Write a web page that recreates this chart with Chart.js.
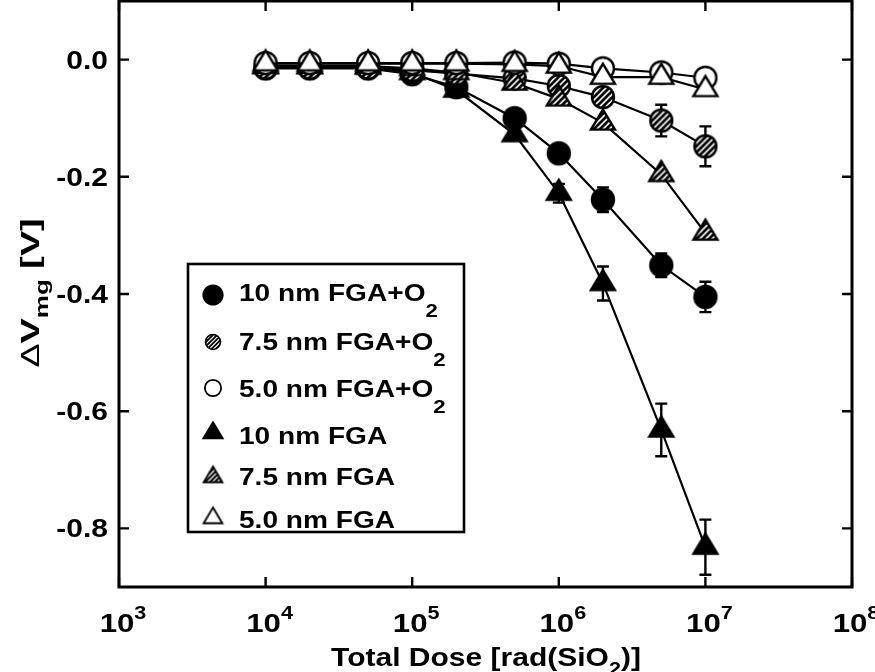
<!DOCTYPE html>
<html>
<head>
<meta charset="utf-8">
<script src="https://cdn.jsdelivr.net/npm/chart.js@4.4.0/dist/chart.umd.min.js"></script>
<style>
  html, body { margin: 0; padding: 0; background: #fff; }
  #wrap { position: relative; width: 875px; height: 672px; }
</style>
</head>
<body>
<div id="wrap"><canvas id="vmg-shift"></canvas></div>
<script>
(function () {
    'use strict';

    // Total dose steps, rad(SiO2)
    const doses = [1e4, 2e4, 5e4, 1e5, 2e5, 5e5, 1e6, 2e6, 5e6, 1e7];

    // Midgap voltage shift [V]
    const fga10o2 = [-0.015, -0.015, -0.015, -0.025, -0.047, -0.100, -0.160, -0.239, -0.351, -0.405];
    const fga75o2 = [-0.014, -0.014, -0.014, -0.018, -0.024, -0.032, -0.045, -0.064, -0.104, -0.148];
    const fga50o2 = [-0.006, -0.006, -0.006, -0.006, -0.006, -0.005, -0.007, -0.015, -0.022, -0.031];
    const fga10   = [-0.012, -0.012, -0.013, -0.022, -0.052, -0.128, -0.228, -0.382, -0.632, -0.832];
    const fga75   = [-0.011, -0.011, -0.011, -0.015, -0.022, -0.040, -0.067, -0.108, -0.196, -0.296];
    const fga50   = [-0.007, -0.007, -0.007, -0.007, -0.007, -0.008, -0.011, -0.030, -0.030, -0.051];

    // Error bar half-widths [V], null = no bar
    const err10o2 = [null, null, null, null, null, null, null, 0.021, 0.020, 0.026];
    const err75o2 = [null, null, null, null, null, null, null, null, 0.027, 0.034];
    const err10   = [null, null, null, null, null, null, 0.016, 0.029, 0.045, 0.047];

    const seriesNames = ['10 nm FGA+O', '7.5 nm FGA+O', '5.0 nm FGA+O', '10 nm FGA', '7.5 nm FGA', '5.0 nm FGA'];
    const seriesSubs  = ['2', '2', '2', '', '', ''];

    const xTicks = [1e3, 1e4, 1e5, 1e6, 1e7, 1e8];
    const yTicks = [0, -0.2, -0.4, -0.6, -0.8];

    const FONT = '"Liberation Sans", Arial, sans-serif';
    const WIDE = 1.2;   // text is set a little wider than the face's natural width

    /* ── Marker sprites ───────────────────────────────────────────────── */

    function makeMarker(shape, fill, s) {
        const size = Math.ceil(34 * s);
        const c = document.createElement('canvas');
        c.width = size;
        c.height = size;
        const g = c.getContext('2d');
        const cx = size / 2, cy = size / 2;

        function outline() {
            g.beginPath();
            if (shape === 'circle') {
                g.arc(cx, cy, 11 * s, 0, Math.PI * 2);
            } else {
                const h = 20 * s, w = 24 * s;
                g.moveTo(cx, cy - h * 2 / 3);
                g.lineTo(cx + w / 2, cy + h / 3);
                g.lineTo(cx - w / 2, cy + h / 3);
            }
            g.closePath();
        }

        outline();
        g.fillStyle = fill === 'solid' ? '#000' : '#fff';
        g.fill();

        if (fill === 'hatch') {
            g.save();
            outline();
            g.clip();
            g.strokeStyle = '#000';
            g.lineWidth = 2.7 * s;
            g.beginPath();
            for (let k = -size; k < size * 2; k += 6.2 * s) {
                g.moveTo(k, size);
                g.lineTo(k + size, 0);
            }
            g.stroke();
            g.restore();
        }

        outline();
        g.strokeStyle = '#000';
        g.lineWidth = 2.4 * s;
        g.stroke();
        return c;
    }

    const styles = [
        ['circle', 'solid'], ['circle', 'hatch'], ['circle', 'open'],
        ['triangle', 'solid'], ['triangle', 'hatch'], ['triangle', 'open'],
    ];
    const legendScale = [0.87, 0.68, 0.74, 0.8, 0.78, 0.78];
    const plotMarks   = styles.map(function (m) { return makeMarker(m[0], m[1], 1); });
    const legendMarks = styles.map(function (m, i) { return makeMarker(m[0], m[1], legendScale[i]); });

    /* ── Helpers ──────────────────────────────────────────────────────── */

    // draws runs of text with their own font / baseline shift, stretched by sx
    function richText(ctx, parts, x, y, align, sx) {
        sx = sx || 1;
        let total = 0;
        parts.forEach(function (p) {
            ctx.font = p.font;
            p.w = ctx.measureText(p.t).width;
            total += p.w;
        });
        let cx = 0;
        if (align === 'center') cx = -total / 2;
        if (align === 'right') cx = -total;
        ctx.save();
        ctx.translate(x, y);
        ctx.scale(sx, 1);
        parts.forEach(function (p) {
            ctx.font = p.font;
            ctx.fillText(p.t, cx, p.dy || 0);
            cx += p.w;
        });
        ctx.restore();
    }

    /* ── Error bars (under the markers) ───────────────────────────────── */

    const errorBars = {
        id: 'errorBars',
        beforeDatasetsDraw: function (chart) {
            const ctx = chart.ctx;
            const xs = chart.scales.x, ys = chart.scales.y;
            ctx.save();
            ctx.strokeStyle = '#000';
            ctx.lineWidth = 2.4;
            chart.data.datasets.forEach(function (ds) {
                if (!ds.errors) return;
                ds.data.forEach(function (pt, i) {
                    const e = ds.errors[i];
                    if (e == null) return;
                    const px = xs.getPixelForValue(pt.x);
                    const top = ys.getPixelForValue(pt.y + e);
                    const bot = ys.getPixelForValue(pt.y - e);
                    ctx.beginPath();
                    ctx.moveTo(px, top); ctx.lineTo(px, bot);
                    ctx.moveTo(px - 6, top); ctx.lineTo(px + 6, top);
                    ctx.moveTo(px - 6, bot); ctx.lineTo(px + 6, bot);
                    ctx.stroke();
                });
            });
            ctx.restore();
        },
    };

    /* ── Frame, inward ticks, labels, titles, legend ──────────────────── */

    const decor = {
        id: 'decor',
        afterDraw: function (chart) {
            const ctx = chart.ctx;
            const a = chart.chartArea;
            const xs = chart.scales.x, ys = chart.scales.y;

            ctx.save();
            ctx.strokeStyle = '#000';
            ctx.fillStyle = '#000';
            ctx.textBaseline = 'alphabetic';

            ctx.lineWidth = 2.4;
            ctx.beginPath();
            xTicks.forEach(function (v) {
                const px = xs.getPixelForValue(v);
                ctx.moveTo(px, a.bottom); ctx.lineTo(px, a.bottom - 10);
                ctx.moveTo(px, a.top);    ctx.lineTo(px, a.top + 10);
            });
            yTicks.forEach(function (v) {
                const py = ys.getPixelForValue(v);
                ctx.moveTo(a.left, py);  ctx.lineTo(a.left + 10, py);
                ctx.moveTo(a.right, py); ctx.lineTo(a.right - 10, py);
            });
            ctx.stroke();

            ctx.lineWidth = 3;
            ctx.strokeRect(a.left, a.top, a.right - a.left, a.bottom - a.top);

            // y tick labels
            yTicks.forEach(function (v) {
                const py = ys.getPixelForValue(v);
                richText(ctx, [{ t: v.toFixed(1), font: 'bold 25px ' + FONT }], a.left - 11, py + 9, 'right', WIDE);
            });

            // x tick labels: "10" centred on the tick, exponent raised to its right
            xTicks.forEach(function (v) {
                const px = xs.getPixelForValue(v);
                const exp = String(Math.round(Math.log10(v)));
                ctx.font = 'bold 26px ' + FONT;
                const w10 = ctx.measureText('10').width * WIDE;
                richText(ctx, [
                    { t: '10', font: 'bold 26px ' + FONT },
                    { t: exp, font: 'bold 18px ' + FONT, dy: -13 },
                ], px - 2 - w10 / 2, 632, 'left', WIDE);
            });

            // x title
            richText(ctx, [
                { t: 'Total Dose [rad(SiO', font: 'bold 25px ' + FONT },
                { t: '2', font: 'bold 18px ' + FONT, dy: 9 },
                { t: ')]', font: 'bold 25px ' + FONT },
            ], 486, 666, 'center', WIDE);

            // y title
            ctx.save();
            ctx.translate(39, 293);
            ctx.rotate(-Math.PI / 2);
            richText(ctx, [
                { t: '\u0394', font: '25px ' + FONT },
                { t: 'V', font: 'bold 26px ' + FONT },
                { t: 'mg', font: 'bold 18px ' + FONT, dy: 9 },
                { t: ' [V]', font: 'bold 26px ' + FONT },
            ], 0, 0, 'center', 1.45);
            ctx.restore();

            // legend box
            const L = { left: 188, top: 264, right: 464, bottom: 532 };
            const markY = [295, 342, 388, 433, 477, 518];
            const baseY = [301, 350, 397, 444, 485, 528];
            ctx.fillStyle = '#fff';
            ctx.fillRect(L.left, L.top, L.right - L.left, L.bottom - L.top);
            ctx.lineWidth = 2.6;
            ctx.strokeRect(L.left, L.top, L.right - L.left, L.bottom - L.top);
            ctx.fillStyle = '#000';
            markY.forEach(function (my, i) {
                const m = legendMarks[i];
                ctx.drawImage(m, 213 - m.width / 2, my - m.height / 2);
                const parts = [{ t: seriesNames[i], font: 'bold 24px ' + FONT }];
                if (seriesSubs[i]) parts.push({ t: seriesSubs[i], font: 'bold 19px ' + FONT, dy: 16 });
                richText(ctx, parts, 239, baseY[i], 'left', 1.17);
            });

            ctx.restore();
        },
    };

    /* ── Chart ────────────────────────────────────────────────────────── */

    function series(values, idx, order, errors) {
        return {
            label: seriesNames[idx] + seriesSubs[idx],
            data: doses.map(function (d, i) { return { x: d, y: values[i] }; }),
            errors: errors || null,
            borderColor: '#000',
            borderWidth: 2.2,
            pointStyle: plotMarks[idx],
            pointRadius: 11,
            pointHoverRadius: 11,
            tension: 0,
            fill: false,
            order: order,
        };
    }

    new Chart(document.getElementById('vmg-shift'), {
        type: 'line',
        data: {
            datasets: [
                series(fga10o2, 0, 5, err10o2),
                series(fga75o2, 1, 3, err75o2),
                series(fga50o2, 2, 1),
                series(fga10, 3, 4, err10),
                series(fga75, 4, 2),
                series(fga50, 5, 0),
            ],
        },
        options: {
            responsive: true,
            maintainAspectRatio: false,
            animation: false,
            events: [],
            layout: { autoPadding: false, padding: { top: 1, right: 23, left: 0, bottom: 0 } },
            plugins: {
                legend: { display: false },
                tooltip: { enabled: false },
            },
            scales: {
                x: {
                    type: 'logarithmic',
                    min: 1e3,
                    max: 1e8,
                    afterBuildTicks: function (s) { s.ticks = xTicks.map(function (v) { return { value: v }; }); },
                    afterFit: function (s) { s.height = 85; s.paddingLeft = 0; s.paddingRight = 0; },
                    ticks: { display: false },
                    grid: { display: false },
                    border: { display: false },
                },
                y: {
                    min: -0.9,
                    max: 0.1,
                    afterBuildTicks: function (s) { s.ticks = yTicks.map(function (v) { return { value: v }; }); },
                    afterFit: function (s) { s.width = 119; s.paddingTop = 0; s.paddingBottom = 0; },
                    ticks: { display: false },
                    grid: { display: false },
                    border: { display: false },
                },
            },
        },
        plugins: [errorBars, decor],
    });
})();
</script>
</body>
</html>
